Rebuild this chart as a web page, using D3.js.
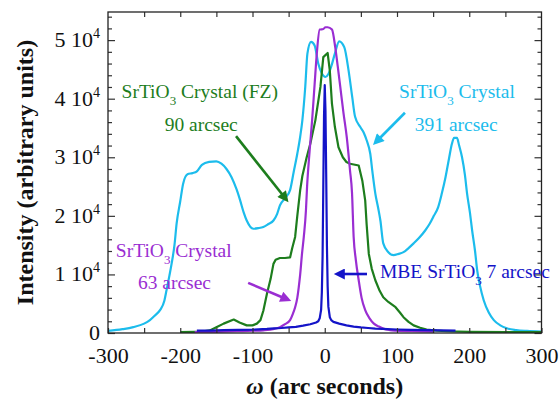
<!DOCTYPE html>
<html lang="en">
<head>
<meta charset="UTF-8">
<title>SrTiO3 rocking curves</title>
<script src="https://d3js.org/d3.v7.min.js"></script>
<style>
    body { margin: 0; background: #fff; }
    svg text { font-family: "Liberation Serif", "Times New Roman", serif; }
</style>
</head>
<body>
<svg id="main" width="560" height="402" viewBox="0 0 560 402"></svg>
<script>
// ---- data (omega in arcsec, intensity in counts) ----
let cyanOmega = [-300,-280,-265,-250,-242,-235,-228,-222,-219,-215,-212,-208,-205,-200,-196,-190,-183,-177,-170,-160,-150,-143,-136,-129,-122,-117,-112,-108,-99,-92,-85,-78,-71,-66,-62,-55,-48,-43,-38,-34,-31,-27,-24,-19,-14,-9,-4,1,5,9,14,20,27,33,38,42,49,54,58,63,66,70,74,77,81,88,95,102,109,116,123,131,139,145,151,157,162,167,172,176,179,183,186,190,194,197,201,204,208,211,215,220,227,234,243,252,265,280,300];
let cyanInt = [350,650,1000,1600,2200,3000,3900,5500,7300,9800,11800,15000,18700,22500,25500,27100,27300,27600,28700,29200,29300,28900,28000,26600,24500,22600,20500,19200,17800,17900,18100,18600,19200,20300,21800,23000,24400,27500,30600,33500,36300,42000,47700,49700,49100,46000,44300,43700,44200,45500,47700,49800,48800,44800,40300,36900,35200,34200,32900,30600,27500,23800,21300,19200,15300,13800,13300,13500,13800,14500,15300,16300,17500,18600,20000,21500,23800,26500,29800,32300,33300,33300,32000,30000,27000,23800,20500,17500,14000,10700,8000,5600,3500,2200,1300,800,500,350,250];

let greenOmega = [-200,-180,-170,-159,-150,-140,-126,-118,-108,-100,-94,-89,-85,-80,-75,-71,-68,-62,-55,-48,-45,-41,-38,-34,-31,-25,-20,-13,-6,-2,4,7,10,14,19,25,30,35,47,52,56,58,61,65,70,76,81,88,98,104,109,116,123,132,141,155,169,200,250,300];
let greenInt = [150,200,250,450,1000,1600,2300,1800,1300,1300,1600,2200,3800,6700,9200,11800,12500,12800,12800,12900,14500,16400,20000,24400,26800,30000,32300,36300,42000,47100,47800,44800,39100,35200,31700,30000,29200,28900,28600,26000,22600,18500,13500,11000,9000,7200,6100,5300,4400,3500,2700,1900,1300,900,600,400,300,200,150,150];

let purpleOmega = [-180,-150,-120,-100,-85,-70,-62,-55,-48,-44,-41,-38,-36,-34,-31.5,-29,-26,-24.5,-21,-17.5,-14,-11,-7,-2,1,4,10,14.5,18,21.5,26,30.5,35,37.7,40,43,47,51,56,62,68,75,81,90,100,120,150];
let purpleInt = [150,200,300,380,460,700,1000,1500,2200,3300,4400,6000,7800,10000,13500,16400,21000,24900,31000,36300,42500,47700,51800,51900,52200,52200,51800,48800,45500,42000,37500,33400,27700,24000,16400,12500,9000,6000,3900,2500,1600,1100,750,500,400,300,250];

let blueOmega = [-177,-160,-140,-120,-100,-80,-70,-60,-50,-40,-30,-20,-12,-9,-7,-5,-4,-3,-2,-1,0,1,2,3,4,5,7,9,12,20,30,40,50,60,70,80,100,120,140,160,181];
let blueInt = [400,420,480,520,560,700,800,850,950,1050,1250,1500,1800,2000,2500,4000,7000,13000,25000,37000,42300,38000,27000,15000,8000,4500,2700,2200,1900,1600,1300,1100,950,850,750,700,600,550,500,450,420];

let xTicksMajor = [-300,-200,-100,0,100,200,300];
let yTicksMajor = [0,10000,20000,30000,40000,50000];

let colors = {cyan:'#1cbcec', green:'#1d7d1d', purple:'#9a2ed2', blue:'#1414c8'};

// ---- svg + scales ----
let svg = d3.select('svg#main');
svg.style('background-color','white');
let plot = {left:108, right:541.5, top:12, bottom:333};

let x = d3.scaleLinear().domain([-300,300]).range([plot.left, plot.right]);
let y = d3.scaleLinear().domain([0,54800]).range([plot.bottom, plot.top]);

svg.append('defs').append('clipPath').attr('id','clip')
    .append('rect')
    .attr('x',plot.left).attr('y',plot.top)
    .attr('width',plot.right-plot.left).attr('height',plot.bottom-plot.top);

// arrow markers, one per colour
Object.keys(colors).forEach(function(k){
    svg.select('defs').append('marker')
        .attr('id','arr-'+k)
        .attr('viewBox','0 0 10 10')
        .attr('refX',6.2).attr('refY',5)
        .attr('markerWidth',13).attr('markerHeight',11)
        .attr('markerUnits','userSpaceOnUse')
        .attr('orient','auto')
        .append('path').attr('d','M0,0 L10,5 L0,10 z')
        .style('fill',colors[k]);
});

// ---- curves ----
function zip(a,b){ return a.map(function(v,i){ return [v,b[i]]; }); }
let series = [
    {data:zip(cyanOmega,cyanInt), color:colors.cyan, curve:d3.curveMonotoneX, w:2.2},
    {data:zip(greenOmega,greenInt), color:colors.green, curve:d3.curveLinear, w:2.2},
    {data:zip(purpleOmega,purpleInt), color:colors.purple, curve:d3.curveMonotoneX, w:2.2},
    {data:zip(blueOmega,blueInt), color:colors.blue, curve:d3.curveLinear, w:2.2}
];
let fig = svg.append('g').attr('clip-path','url(#clip)');
series.forEach(function(s){
    let line = d3.line()
        .x(function(d){return x(d[0]);})
        .y(function(d){return y(d[1]);})
        .curve(s.curve);
    fig.append('path')
        .datum(s.data)
        .attr('d', line)
        .style('fill','none')
        .style('stroke',s.color)
        .style('stroke-width',s.w+'px')
        .style('stroke-linejoin','round');
});

// ---- axes (ticks point inward on all four sides) ----
let tickColor = '#333';
function styleAxis(g){
    g.select('.domain').remove();
    g.selectAll('.tick line').style('stroke',tickColor).style('stroke-width','1.2px');
}
let yMinor = d3.range(0,54001,2000).filter(function(v){return v%10000!==0;});
let xMinor = d3.range(-250,300,100);

svg.append('g').attr('transform','translate('+plot.left+',0)')
    .call(d3.axisLeft(y).tickValues(yMinor).tickSize(-4).tickFormat('')).call(styleAxis);
svg.append('g').attr('transform','translate('+plot.left+',0)')
    .call(d3.axisLeft(y).tickValues(yTicksMajor).tickSize(-7).tickFormat('')).call(styleAxis);
svg.append('g').attr('transform','translate('+plot.right+',0)')
    .call(d3.axisRight(y).tickValues(yMinor).tickSize(-4).tickFormat('')).call(styleAxis);
svg.append('g').attr('transform','translate('+plot.right+',0)')
    .call(d3.axisRight(y).tickValues(yTicksMajor).tickSize(-7).tickFormat('')).call(styleAxis);

let xAxis = svg.append('g').attr('transform','translate(0,'+plot.bottom+')')
    .call(d3.axisBottom(x).tickValues(xTicksMajor).tickSize(-5).tickPadding(14)
        .tickFormat(function(d){return d3.format('d')(d).replace('−','-');}))
    .call(styleAxis);
xAxis.selectAll('text').style('font-size','22px').style('fill','#111')
    .style('font-family','"Liberation Serif", "Times New Roman", serif');
svg.append('g').attr('transform','translate(0,'+plot.bottom+')')
    .call(d3.axisBottom(x).tickValues(xMinor).tickSize(-5).tickFormat('')).call(styleAxis);
svg.append('g').attr('transform','translate(0,'+plot.top+')')
    .call(d3.axisTop(x).tickValues(d3.range(-250,300,50)).tickSize(-5).tickFormat('')).call(styleAxis);

// frame
svg.append('rect')
    .attr('x',plot.left).attr('y',plot.top)
    .attr('width',plot.right-plot.left).attr('height',plot.bottom-plot.top)
    .style('fill','none').style('stroke','#222').style('stroke-width','1.3px');

// y tick labels "n 10^4"
let yLab = svg.append('g');
yTicksMajor.forEach(function(v){
    let t = yLab.append('text')
        .attr('x',100).attr('y',y(v)+7)
        .attr('text-anchor','end')
        .style('font-size','22px').style('fill','#111');
    if (v === 0) { t.text('0'); return; }
    t.append('tspan').text((v/10000)+' 10');
    t.append('tspan').attr('dy',-9).style('font-size','14px').text('4');
});

// axis titles
svg.append('text')
    .attr('transform','translate(33,'+((plot.top+plot.bottom)/2)+') rotate(-90)')
    .attr('text-anchor','middle')
    .style('font-size','24px').style('font-weight','bold').style('fill','#111')
    .text('Intensity (arbitrary units)');
let xt = svg.append('text')
    .attr('x',x(0)).attr('y',394)
    .attr('text-anchor','middle')
    .style('font-size','24px').style('font-weight','bold').style('fill','#111');
xt.append('tspan').style('font-style','italic').text('\u03c9');
xt.append('tspan').text(' (arc seconds)');

// ---- annotations (positions in data units) ----
let labels = [
    {c:'green', x:-173, y:40100, a:'middle', parts:[['SrTiO'],['3','sub'],[' Crystal (FZ)']]},
    {c:'green', x:-171, y:34500, a:'middle', parts:[['90 arcsec']]},
    {c:'cyan', x:183, y:40100, a:'middle', parts:[['SrTiO'],['3','sub'],[' Crystal']]},
    {c:'cyan', x:182, y:34500, a:'middle', parts:[['391 arcsec']]},
    {c:'purple', x:-209, y:12900, a:'middle', parts:[['SrTiO'],['3','sub'],[' Crystal']]},
    {c:'purple', x:-208, y:7500, a:'middle', parts:[['63 arcsec']]},
    {c:'blue', x:76.5, y:9400, a:'start', parts:[['MBE SrTiO'],['3','sub'],[' 7 arcsec']]}
];
let arrows = [
    {c:'green', x0:-122.8, y0:33600, x1:-49.5, y1:22200},
    {c:'cyan', x0:111, y0:37600, x1:66, y1:32000},
    {c:'purple', x0:-106, y0:8550, x1:-45.3, y1:5400},
    {c:'blue', x0:58.5, y0:10070, x1:11.4, y1:10070}
];

let ann = svg.append('g');
labels.forEach(function(l){
    let t = ann.append('text')
        .attr('x',x(l.x)).attr('y',y(l.y))
        .attr('text-anchor',l.a)
        .style('font-size','19.5px').style('fill',colors[l.c]);
    let shifted = 0;
    l.parts.forEach(function(p){
        let sp = t.append('tspan').text(p[0]);
        if (p[1] === 'sub') { sp.attr('dy',7).style('font-size','13px'); shifted = 7; }
        else if (shifted) { sp.attr('dy',-shifted); shifted = 0; }
    });
});
arrows.forEach(function(a){
    let px0 = x(a.x0), py0 = y(a.y0), px1 = x(a.x1), py1 = y(a.y1);
    let len = Math.hypot(px1-px0, py1-py0);
    let k = (len-5)/len;   // stop the shaft a little short of the tip
    ann.append('line')
        .attr('x1',px0).attr('y1',py0)
        .attr('x2',px0+(px1-px0)*k).attr('y2',py0+(py1-py0)*k)
        .style('stroke',colors[a.c]).style('stroke-width','2.6px')
        .attr('marker-end','url(#arr-'+a.c+')');
});
</script>
</body>
</html>
